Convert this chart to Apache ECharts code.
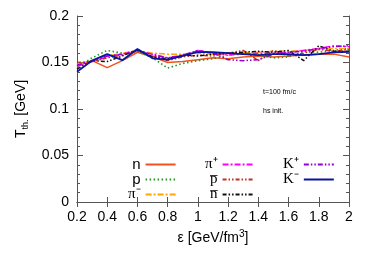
<!DOCTYPE html>
<html><head><meta charset="utf-8">
<script src="https://cdn.jsdelivr.net/npm/echarts@6/dist/echarts.min.js"></script>
<style>html,body{margin:0;padding:0;background:#fff}#c{width:374px;height:262px}</style>
</head><body><div id="c"></div>
<script>
var xVals = [0.2,0.3,0.4,0.5,0.6,0.7,0.8,0.9,1.0,1.1,1.2,1.3,1.4,1.5,1.6,1.7,1.8,1.9,2.0];
var nData   = [0.146,0.152,0.1445,0.152,0.161,0.156,0.150,0.151,0.153,0.155,0.154,0.156,0.157,0.156,0.157,0.158,0.159,0.159,0.156];
var pData   = [0.145,0.155,0.163,0.160,0.162,0.155,0.144,0.149,0.152,0.154,0.158,0.160,0.158,0.155,0.156,0.162,0.161,0.163,0.165];
var pimData = [0.148,0.152,0.157,0.160,0.163,0.160,0.159,0.159,0.160,0.159,0.160,0.161,0.161,0.162,0.162,0.163,0.164,0.165,0.165];
var pipData = [0.146,0.151,0.156,0.159,0.163,0.159,0.155,0.157,0.163,0.160,0.158,0.159,0.160,0.160,0.161,0.163,0.165,0.168,0.167];
var pbarData= [0.150,0.151,0.155,0.158,0.162,0.157,0.152,0.156,0.158,0.157,0.160,0.163,0.152,0.163,0.157,0.160,0.164,0.162,0.164];
var nbarData= [0.143,0.152,0.151,0.157,0.164,0.156,0.154,0.158,0.157,0.159,0.160,0.161,0.162,0.161,0.163,0.152,0.168,0.162,0.162];
var kpData  = [0.147,0.152,0.157,0.159,0.163,0.158,0.155,0.158,0.163,0.160,0.153,0.152,0.153,0.159,0.161,0.162,0.165,0.167,0.168];
var kmData  = [0.140,0.152,0.159,0.1525,0.1645,0.1545,0.153,0.157,0.1615,0.161,0.160,0.159,0.158,0.159,0.159,0.158,0.159,0.161,0.1615];
var xTicks = [0.2,0.4,0.6,0.8,1,1.2,1.4,1.6,1.8,2];
var yTicks = [0,0.05,0.1,0.15,0.2];

function pairs(arr){ return arr.map(function(v,i){ return [xVals[i], v]; }); }
var defs = [
  {name:'n', data:nData, color:'#f4511e', type:'solid', w:1.5},
  {name:'p', data:pData, color:'#1e9a1e', type:[1.5,2.5], w:1.6},
  {name:'π⁻', data:pimData, color:'#ffa500', type:[6,2,2,2], w:1.5},
  {name:'π⁺', data:pipData, color:'#ff00ff', type:[6,2,2,2], w:1.5},
  {name:'p̅', data:pbarData, color:'#c0302a', type:[4,2,1.5,2,1.5,2], w:1.5},
  {name:'n̅', data:nbarData, color:'#111111', type:[4,2,1.5,2,1.5,2], w:1.5},
  {name:'K⁺', data:kpData, color:'#9400d3', type:[5,2,1.5,2,1.5,2], w:1.5},
  {name:'K⁻', data:kmData, color:'#0a14a0', type:'solid', w:1.8}
];
var series = defs.map(function(d){
  return {name:d.name, type:'line', data:pairs(d.data), showSymbol:false, symbol:'none',
    smooth:false, lineStyle:{color:d.color, type:d.type, width:d.w}, itemStyle:{color:d.color}};
});
function mkLegend(names, left){
  return {show:true, orient:'vertical', left:left, top:157, align:'right', padding:0, itemGap:0,
    itemWidth:30, itemHeight:10, data:names, itemStyle:{opacity:0},
    formatter:function(n){ return (n==='n'||n==='p') ? '{s|'+n+'}' : '{g|'+n+'}'; },
    textStyle:{color:'#000', fontFamily:'Liberation Serif', fontSize:15, lineHeight:14,
      rich:{s:{fontFamily:'Liberation Sans', fontSize:15, lineHeight:14},
            g:{fontFamily:'Liberation Serif', fontSize:15, lineHeight:14}}}};
}
var chart = echarts.init(document.getElementById('c'), null, {renderer:'canvas'});
var axisLineStyle = {color:'#555', width:1};
chart.setOption({
  animation:false,
  grid:{left:77, right:25, top:16, bottom:60},
  legend:[mkLegend(['n','p','π⁻'],128), mkLegend(['π⁺','p̅','n̅'],205), mkLegend(['K⁺','K⁻'],283)],
  xAxis:[{type:'value', min:0.2, max:2, interval:0.2,
    name:'ε [GeV/fm{sup|3}]', nameLocation:'middle', nameGap:27,
    nameTextStyle:{fontFamily:'Liberation Sans', fontSize:14, color:'#000', rich:{sup:{fontSize:10, padding:[0,0,8,0]}}},
    axisLine:{lineStyle:axisLineStyle}, axisTick:{inside:true, length:5, lineStyle:axisLineStyle},
    axisLabel:{fontFamily:'Liberation Sans', fontSize:14, color:'#000', margin:8,
      formatter:function(v){ return String(Math.round(v*10)/10); }},
    splitLine:{show:false}},
   {type:'value', position:'top', min:0.2, max:2, interval:0.2,
    axisLine:{lineStyle:axisLineStyle}, axisTick:{inside:true, length:5, lineStyle:axisLineStyle},
    axisLabel:{show:false}, splitLine:{show:false}}],
  yAxis:[{type:'value', min:0, max:0.2, interval:0.05,
    name:'T{sub|th.} [GeV]', nameLocation:'middle', nameGap:47, nameRotate:90,
    nameTextStyle:{fontFamily:'Liberation Sans', fontSize:14, color:'#000', rich:{sub:{fontSize:9, padding:[8,0,0,0]}}},
    axisLine:{lineStyle:axisLineStyle}, axisTick:{inside:true, length:6, lineStyle:axisLineStyle},
    minorTick:{show:true, splitNumber:5, length:3, lineStyle:axisLineStyle},
    axisLabel:{fontFamily:'Liberation Sans', fontSize:14, color:'#000', margin:8,
      formatter:function(v){ return String(Math.round(v*100)/100); }},
    splitLine:{show:false}},
   {type:'value', position:'right', min:0, max:0.2, interval:0.05,
    axisLine:{lineStyle:axisLineStyle}, axisTick:{inside:true, length:6, lineStyle:axisLineStyle},
    minorTick:{show:true, splitNumber:5, length:3, lineStyle:axisLineStyle},
    axisLabel:{show:false}, splitLine:{show:false}}],
  graphic:[
    {type:'text', left:263, top:89, style:{text:'t=100 fm/c', font:'7px Liberation Sans', fill:'#000'}},
    {type:'text', left:263, top:108, style:{text:'hs init.', font:'7px Liberation Sans', fill:'#000'}}
  ],
  series:series
});
</script></body></html>
